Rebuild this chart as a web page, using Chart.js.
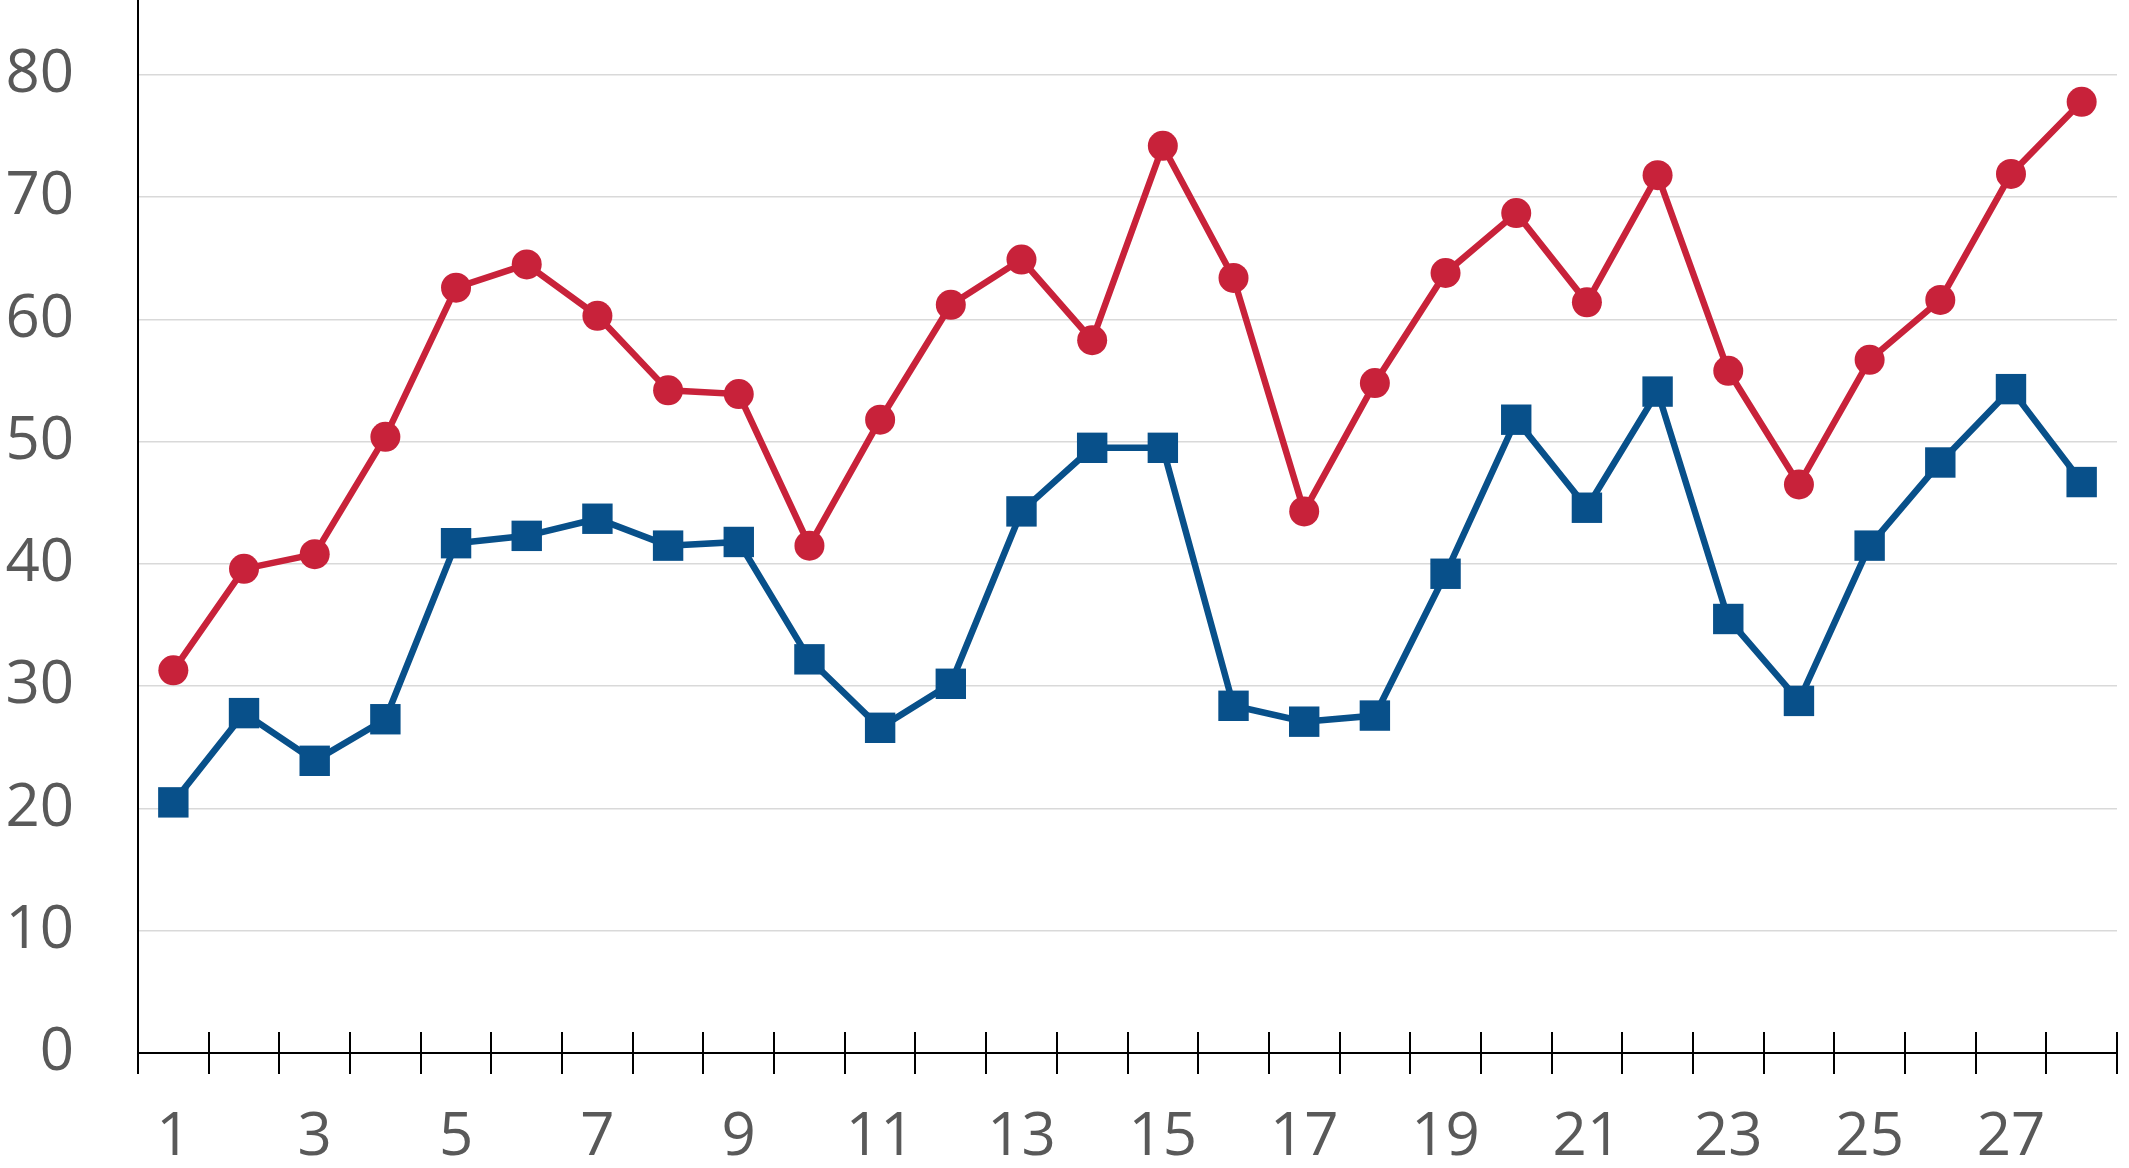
<!DOCTYPE html>
<html>
<head>
<meta charset="utf-8">
<script src="https://cdn.jsdelivr.net/npm/chart.js@4"></script>
<style>
  html, body { margin: 0; padding: 0; background: #fff; }
  #wrap { width: 2129px; height: 1168px; }
</style>
</head>
<body>
<div id="wrap"><canvas id="myChart" width="2129" height="1168"></canvas></div>
<script>
const categories = Array.from({ length: 28 }, (_, i) => String(i + 1));

const redValues = [31.3, 39.6, 40.8, 50.4, 62.6, 64.5, 60.3, 54.2, 53.9, 41.5,
                   51.8, 61.2, 64.9, 58.3, 74.2, 63.4, 44.3, 54.8, 63.8, 68.7,
                   61.4, 71.8, 55.8, 46.5, 56.7, 61.6, 71.9, 77.8];

const blueValues = [20.5, 27.8, 23.9, 27.3, 41.7, 42.3, 43.7, 41.5, 41.8, 32.2,
                    26.6, 30.2, 44.3, 49.5, 49.5, 28.4, 27.1, 27.6, 39.2, 51.8,
                    44.6, 54.1, 35.5, 28.8, 41.5, 48.3, 54.3, 46.7];

const yTicks = [0, 10, 20, 30, 40, 50, 60, 70, 80];

const labelFont = { family: "'Open Sans', sans-serif", size: 60, lineHeight: 1.2 };
const labelColor = '#595959';

// tick marks that cross the x axis at every category boundary
const crossTicks = {
    id: 'crossTicks',
    afterDraw(chart) {
        const { ctx, chartArea } = chart;
        const n = chart.scales.x.ticks.length;
        const step = (chartArea.right - chartArea.left) / n;
        ctx.save();
        ctx.strokeStyle = '#000';
        ctx.lineWidth = 2;
        ctx.beginPath();
        for (let i = 0; i <= n; i++) {
            const px = Math.round(chartArea.left + step * i);
            ctx.moveTo(px, chartArea.bottom - 21);
            ctx.lineTo(px, chartArea.bottom + 21);
        }
        ctx.stroke();
        ctx.restore();
    }
};

const ctx = document.getElementById('myChart').getContext('2d');
const myChart = new Chart(ctx, {
    type: 'line',
    data: {
        labels: categories,
        datasets: [{
            label: 'Red',
            data: redValues,
            borderColor: '#C8223A',
            backgroundColor: '#C8223A',
            borderWidth: 6.5,
            pointStyle: 'circle',
            pointRadius: 15,
            pointBorderWidth: 0,
            tension: 0,
            clip: false
        }, {
            label: 'Blue',
            data: blueValues,
            borderColor: '#08508A',
            backgroundColor: '#08508A',
            borderWidth: 6.5,
            pointStyle: 'rect',
            pointRadius: 21.5,
            pointBorderWidth: 0,
            tension: 0,
            clip: false
        }]
    },
    options: {
        responsive: false,
        animation: false,
        layout: { autoPadding: false, padding: { top: 0, left: 0, bottom: 0, right: 12 } },
        plugins: {
            legend: { display: false },
            tooltip: { enabled: false }
        },
        scales: {
            x: {
                offset: true,
                grid: { display: false, drawTicks: false },
                border: { display: true, color: '#000', width: 2 },
                ticks: {
                    autoSkip: false,
                    maxRotation: 0,
                    padding: 49,
                    color: labelColor,
                    font: labelFont,
                    callback: (v, i) => (i % 2 === 0 ? categories[i] : '')
                },
                afterFit: (scale) => {
                    scale.height = 115;
                    scale.paddingLeft = 0;
                    scale.paddingRight = 0;
                }
            },
            y: {
                min: 0,
                max: 86.13,
                grid: {
                    drawTicks: false,
                    lineWidth: 1.5,
                    color: (c) => (c.tick && yTicks.includes(c.tick.value) && c.tick.value !== 0 ? '#D9D9D9' : 'rgba(0,0,0,0)')
                },
                border: { display: true, color: '#000', width: 2 },
                ticks: {
                    stepSize: 10,
                    padding: 64,
                    color: labelColor,
                    font: labelFont,
                    callback: (v) => (yTicks.includes(v) ? String(v) : null)
                },
                afterFit: (scale) => {
                    scale.width = 138;
                    scale.paddingTop = 0;
                    scale.paddingBottom = 0;
                }
            }
        }
    },
    plugins: [crossTicks]
});
</script>
</body>
</html>
